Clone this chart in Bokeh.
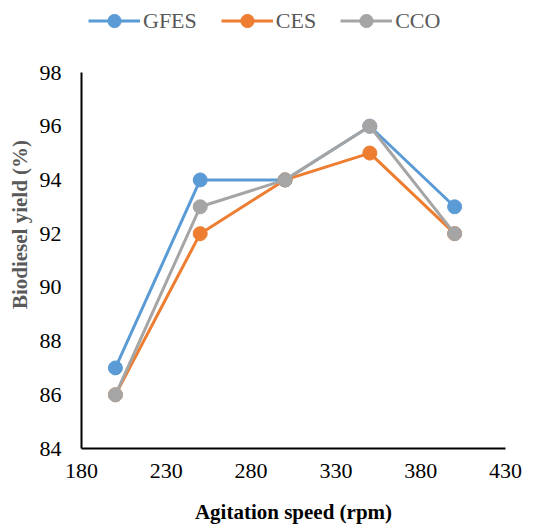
from bokeh.plotting import figure
from bokeh.models import Legend, LegendItem, Range1d, FixedTicker
from bokeh.embed import file_html
from bokeh.resources import INLINE

speed = [200, 250, 300, 350, 400]
gfes = [87, 94, 94, 96, 93]
ces = [86, 92, 94, 95, 92]
cco = [86, 93, 94, 96, 92]
x_ticks = [180, 230, 280, 330, 380, 430]
y_ticks = [84, 86, 88, 90, 92, 94, 96, 98]

FONT = "Liberation Serif"

# frame spans the full top of the figure; axis is limited to 84..98 with bounds
Y0, Y1 = 84, 98
FRAME_H = 448
Y_END = Y0 + (Y1 - Y0) * FRAME_H / 376.0

p = figure(width=550, height=527, output_backend="svg", toolbar_location=None,
           x_range=Range1d(180, 430), y_range=Range1d(Y0, Y_END),
           min_border_left=81, min_border_right=45, min_border_top=0, min_border_bottom=79)
p.outline_line_color = None
p.grid.visible = False
p.background_fill_color = "white"
p.border_fill_color = "white"

series = [("GFES", gfes, "#5B9BD5"), ("CES", ces, "#ED7D31"), ("CCO", cco, "#A5A5A5")]
items = []
for name, ys, col in series:
    l = p.line(speed, ys, line_color=col, line_width=3)
    c = p.scatter(speed, ys, size=14, fill_color=col, line_color=col)
    items.append(LegendItem(label=name, renderers=[l, c]))

for ax in (p.xaxis[0], p.yaxis[0]):
    ax.axis_line_color = "black"
    ax.axis_line_width = 2
    ax.major_tick_line_color = None
    ax.minor_tick_line_color = None
    ax.major_label_text_font = FONT
    ax.major_label_text_font_size = "22px"
    ax.major_label_text_color = "black"
    ax.axis_label_text_font = FONT
    ax.axis_label_text_font_style = "bold"
    ax.axis_label_text_font_size = "21px"

p.xaxis.ticker = FixedTicker(ticks=x_ticks)
p.yaxis.ticker = FixedTicker(ticks=y_ticks)
p.yaxis.bounds = (Y0, Y1)
p.xaxis.axis_label = "Agitation speed (rpm)"
p.xaxis.axis_label_text_color = "black"
p.xaxis.major_label_standoff = 9
p.xaxis.axis_label_standoff = 19
p.yaxis.axis_label = "Biodiesel yield (%)"
p.yaxis.axis_label_text_color = "#595959"
p.yaxis.major_label_standoff = 14

legend = Legend(items=items, orientation="horizontal", location=(7, 411),
                label_text_font=FONT, label_text_font_size="22px", label_text_color="#595959",
                glyph_width=52, glyph_height=33, spacing=24, label_standoff=3,
                border_line_color=None, background_fill_alpha=0, padding=0, margin=0)
p.add_layout(legend, "center")

open("out.html", "w").write(file_html(p, INLINE))
